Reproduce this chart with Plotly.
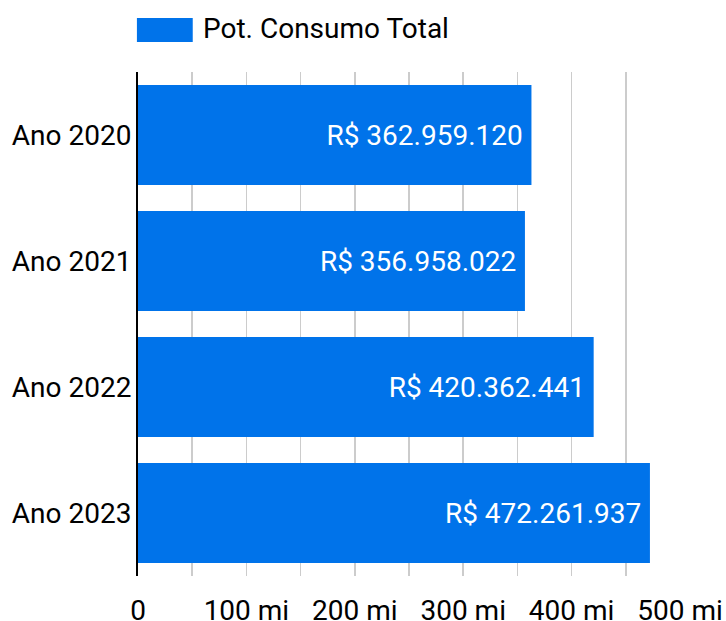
import plotly.graph_objects as go

categories = ["Ano 2020", "Ano 2021", "Ano 2022", "Ano 2023"]
values = [362959120, 356958022, 420362441, 472261937]
series_name = "Pot. Consumo Total"
tick_vals = [0, 100e6, 200e6, 300e6, 400e6, 500e6]
tick_text = ["0", "100 mi", "200 mi", "300 mi", "400 mi", "500 mi"]

BLUE = "#0073ea"
FONT = "Roboto"
FS = 28

def fmt(v):
    return "R$ " + f"{v:,}".replace(",", ".") + "\u2009"

labels = [fmt(v) for v in values]

fig = go.Figure(go.Bar(
    y=categories, x=values, orientation="h",
    marker=dict(color=BLUE, line=dict(width=0)),
    text=labels, textposition="inside", insidetextanchor="end",
    textfont=dict(color="white", size=FS, family=FONT),
    name=series_name, showlegend=False, cliponaxis=False,
    hoverinfo="skip",
))

fig.update_layout(
    width=726, height=621,
    margin=dict(l=138, r=46, t=72, b=45, autoexpand=False),
    plot_bgcolor="white", paper_bgcolor="white",
    bargap=0.206,
    font=dict(family=FONT, size=FS, color="#000000"),
    uniformtext=dict(minsize=FS, mode="show"),
)
fig.update_xaxes(
    range=[0, 500e6], tickvals=tick_vals, ticktext=tick_text,
    showgrid=True, gridcolor="#cccccc", gridwidth=1.5,
    minor=dict(dtick=50e6, tick0=0, showgrid=True, gridcolor="#cccccc", gridwidth=1.5),
    zeroline=False, showline=False, ticks="", ticklen=0, ticklabelstandoff=15,
    automargin=False,
    tickfont=dict(size=FS, family=FONT, color="#000000"),
)
fig.update_yaxes(
    autorange="reversed", showgrid=False, zeroline=False,
    showline=True, linecolor="#000000", linewidth=2,
    ticks="", ticklen=0, ticklabelstandoff=-1, automargin=False,
    tickfont=dict(size=FS, family=FONT, color="#000000"),
)

fig.add_shape(type="rect", xref="paper", yref="paper",
              x0=-0.002, x1=0.101, y0=1.0595, y1=1.107,
              fillcolor=BLUE, line=dict(width=0))
fig.add_annotation(xref="paper", yref="paper", x=0.1162, y=1.086,
                   text=series_name, showarrow=False, xanchor="left", yanchor="middle",
                   font=dict(size=FS, family=FONT, color="#000000"))

fig.write_html(
    "out.html",
    config={"displayModeBar": False, "staticPlot": True},
    post_script="document.body.style.margin='0';document.documentElement.style.overflow='hidden';",
)
